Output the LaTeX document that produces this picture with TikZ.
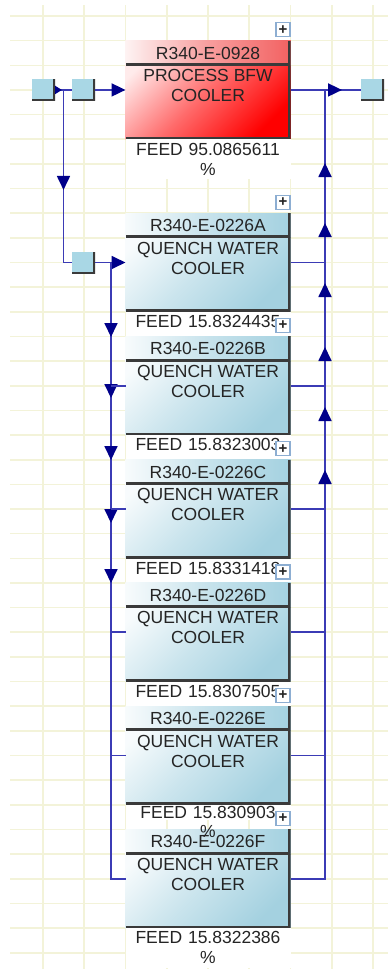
\documentclass[tikz,border=0pt]{standalone}
\usepackage{fontspec}
\setmainfont{Liberation Sans}
\usetikzlibrary{arrows.meta,positioning,decorations.markings}
\definecolor{Flow}{HTML}{3B3BB5}
\definecolor{Navy}{HTML}{00008A}
\definecolor{Grid}{HTML}{F3F3D9}
\definecolor{Ice}{HTML}{A4D1E0}
\definecolor{Port}{HTML}{A9D7E5}
\definecolor{Rim}{HTML}{3A3A3A}
\definecolor{Ink}{HTML}{242424}
\definecolor{Alarm}{HTML}{FF0000}
\definecolor{Blush}{HTML}{F26262}
\definecolor{PlusRim}{HTML}{8DAED2}
\tikzset{
  bigtip/.tip={Triangle[length=14pt,width=13pt,color=Navy]},
  smalltip/.tip={Triangle[length=7pt,width=8pt,color=Navy]}}
% tag strip and service text of one exchanger
\newcommand{\unitparts}[4]{%
  \node[strip=#2] (#1-tag) at (#1.north) {#3};
  \node[duty] (#1-duty) at ([yshift=-45pt]#1.north) {#4};}

\begin{document}
\begin{tikzpicture}[x=1pt,y=-1pt,
every node/.style={font=\fontsize{17.5}{20}\selectfont,text=Ink,align=center},
gridline/.style={Grid,line width=1.6pt},
edgeshadow/.style={path picture={\draw[Rim,line width=#1]
  (path picture bounding box.north east) -- (path picture bounding box.south east)
  -- (path picture bounding box.south west);}},
cooler/.style={minimum width=165pt,minimum height=98.6pt,inner sep=0pt,outer sep=0pt,
  top color=#1!8!white,bottom color=#1,middle color=#1!58!white,shading angle=45,edgeshadow=5pt},
cooler/.default=Ice,
strip/.style={anchor=north,minimum width=165pt,minimum height=24.65pt,inner sep=0pt,
  outer sep=0pt,left color=#1!8!white,right color=#1,middle color=#1!62!white,edgeshadow=5pt},
strip/.default=Ice,
duty/.style={inner sep=0pt},
feed/.style={anchor=north,fill=white,text width=165pt,inner xsep=0pt,inner ysep=3.5pt},
port/.style={minimum width=23pt,minimum height=22pt,inner sep=0pt,outer sep=0pt,
  fill=Port,edgeshadow=4pt},
plusbox/.style={draw=PlusRim,line width=1.2pt,fill=white,minimum size=14pt,inner sep=0pt,
  font=\fontsize{15}{15}\selectfont\bfseries},
flow/.style={Flow,line width=1.8pt},
flowmarks/.style={postaction={decorate},decoration={markings,#1}}]
\useasboundingbox (0,0) rectangle (388,969);
\fill[white] (0,0) rectangle (388,969);
\foreach \gx in {0,...,8} \draw[gridline] ({43+41.25*\gx},5) -- ({43+41.25*\gx},969);
\foreach \gy in {0,...,38} \draw[gridline] (10,{16+24.65*\gy}) -- (388,{16+24.65*\gy});

% process BFW cooler
\node[cooler=Alarm] (e0928) at (208,89.95) {};
\unitparts{e0928}{Blush}{R340-E-0928}{PROCESS BFW\\COOLER}
\node[feed] (e0928-feed) at (e0928.south) {FEED 95.0865611\\\%};

% quench water coolers
\node[cooler,below=73.95pt of e0928] (qA) {};
\unitparts{qA}{Ice}{R340-E-0226A}{QUENCH WATER\\COOLER}
\node[feed,text depth=5pt] (qA-feed) at (qA.south) {FEED 15.8324435};
\node[cooler,below=24.65pt of qA] (qB) {};
\unitparts{qB}{Ice}{R340-E-0226B}{QUENCH WATER\\COOLER}
\node[feed,text depth=5pt] (qB-feed) at (qB.south) {FEED 15.8323003};
\node[cooler,below=24.65pt of qB] (qC) {};
\unitparts{qC}{Ice}{R340-E-0226C}{QUENCH WATER\\COOLER}
\node[feed,text depth=5pt] (qC-feed) at (qC.south) {FEED 15.8331418};
\node[cooler,below=24.65pt of qC] (qD) {};
\unitparts{qD}{Ice}{R340-E-0226D}{QUENCH WATER\\COOLER}
\node[feed,text depth=5pt] (qD-feed) at (qD.south) {FEED 15.8307505};
\node[cooler,below=24.65pt of qD] (qE) {};
\unitparts{qE}{Ice}{R340-E-0226E}{QUENCH WATER\\COOLER}
\node[feed,inner ysep=1.5pt] (qE-feed) at (qE.south) {FEED 15.830903};
\node[cooler,below=24.65pt of qE] (qF) {};
\unitparts{qF}{Ice}{R340-E-0226F}{QUENCH WATER\\COOLER}
\node[feed] (qF-feed) at (qF.south) {FEED 15.8322386\\\%};
\node (qE-pct) at ([yshift=-27pt]qE.south) {\%};
\foreach \q in {e0928,qA,qB,qC,qD,qE,qF}
  \node[plusbox] (\q-plus) at ([xshift=-7.5pt,yshift=11pt]\q.north east) {+};

% ports and junctions
\node[port] (feedIn) at (43.5,89.95) {};
\node[port,right=17pt of feedIn] (feedPort) {};
\node[port] (quenchPort) at (feedPort |- qA) {};
\node[port] (outPort) at (372.5,89.95) {};
\coordinate (split) at (63.5,89.95);
\coordinate (header) at (111,262.5);
\coordinate (collector) at (325,89.95);

% streams
\draw[flow,flowmarks={mark=at position 7pt with {\arrow{smalltip}}}] (feedIn) -- (feedPort);
\draw[flow,-{bigtip}] (feedPort) -- (e0928);
\draw[flow,flowmarks={mark=at position 100pt with {\arrow{bigtip}}}] (split) |- (quenchPort);
\draw[flow,-{bigtip}] (quenchPort) -- (qA);
\draw[flow,flowmarks={mark=at position 74.5pt with {\arrow{bigtip}},
  mark=at position 135.5pt with {\arrow{bigtip}},mark=at position 197.5pt with {\arrow{bigtip}},
  mark=at position 260.5pt with {\arrow{bigtip}},mark=at position 320.5pt with {\arrow{bigtip}}}]
  (header) |- (qF);
\foreach \q in {qB,qC,qD,qE} \draw[flow] (header |- \q) -- (\q);
\draw[flow,flowmarks={mark=at position 443.25pt with {\arrow{bigtip}},
  mark=at position 506.25pt with {\arrow{bigtip}},mark=at position 566.25pt with {\arrow{bigtip}},
  mark=at position 630.25pt with {\arrow{bigtip}},mark=at position 690.25pt with {\arrow{bigtip}},
  mark=at position 750.25pt with {\arrow{bigtip}}}]
  (qF) -| (collector);
\foreach \q in {qA,qB,qC,qD,qE} \draw[flow] (\q) -- (collector |- \q);
\draw[flow,flowmarks={mark=at position 51.5pt with {\arrow{bigtip}}}] (e0928) -- (outPort);
\end{tikzpicture}
\end{document}
